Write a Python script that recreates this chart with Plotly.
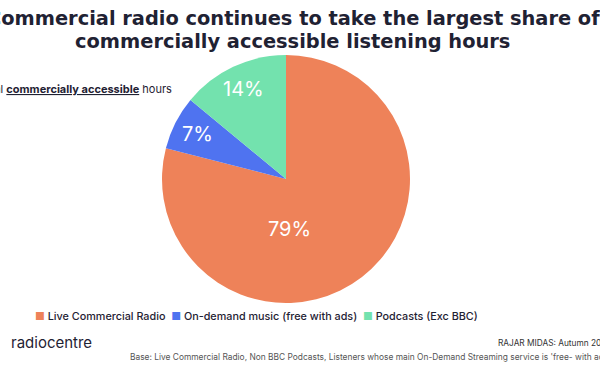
import math
import plotly.graph_objects as go

labels = ["Live Commercial Radio", "On-demand music (free with ads)", "Podcasts (Exc BBC)"]
values = [79, 7, 14]
colors = ["#EE8259", "#4F73F0", "#73E2AE"]

title_line1 = "Commercial radio continues to take the largest share of"
title_line2 = "commercially accessible listening hours"
subtitle = "% of total <b><u>commercially accessible</u></b> hours"
source = "RAJAR MIDAS: Autumn 2023"
base_note = "Base: Live Commercial Radio, Non BBC Podcasts, Listeners whose main On-Demand Streaming service is 'free- with ads'"

W, H = 600, 372
FONT = "Inter, Lato, sans-serif"
TFONT = "DejaVu Sans, sans-serif"
NAVY = "#1f2233"

# pie geometry (pixels)
CX, CY, R = 286, 179, 124

fig = go.Figure(go.Pie(
    labels=labels, values=values,
    marker=dict(colors=colors, line=dict(width=0)),
    sort=False, direction="clockwise", rotation=0,
    textinfo="none",
    domain=dict(x=[(CX - R) / W, (CX + R) / W], y=[1 - (CY + R) / H, 1 - (CY - R) / H]),
    hoverinfo="label+percent",
    showlegend=False,
))

def px(x, y):
    return x / W, 1 - y / H

ann = []
# slice labels, placed along each slice's mid-angle
total = sum(values)
cum = 0
for v in values:
    frac = v / total
    mid = (cum + frac / 2) * 2 * math.pi
    cum += frac
    if frac > 0.5:
        lx, ly = CX + 3, CY + 0.4 * R
    else:
        rr = 0.8 * R
        lx, ly = CX + rr * math.sin(mid), CY - rr * math.cos(mid)
    x, y = px(lx, ly)
    ann.append(dict(text=f"{v}%", x=x, y=y, xref="paper", yref="paper", showarrow=False,
                    font=dict(family=FONT, size=20, color="white"), xanchor="center", yanchor="middle"))

x, y = px(293, 19)
ann.append(dict(text=f"<b>{title_line1}</b>", x=x, y=y, xref="paper", yref="paper", showarrow=False,
                font=dict(family=TFONT, size=19.4, color=NAVY), xanchor="center", yanchor="middle"))
x, y = px(292, 41)
ann.append(dict(text=f"<b>{title_line2}</b>", x=x, y=y, xref="paper", yref="paper", showarrow=False,
                font=dict(family=TFONT, size=19.4, color=NAVY), xanchor="center", yanchor="middle"))
x, y = px(174, 89)
ann.append(dict(text=subtitle, x=x, y=y, xref="paper", yref="paper", showarrow=False,
                font=dict(family=FONT, size=11, color=NAVY), xanchor="right", yanchor="middle"))

# legend row built from labels/colors
legend_txt = "  ".join(f"<span style='color:{c}'>■</span> {l}" for l, c in zip(labels, colors))
x, y = px(256, 316)
ann.append(dict(text=legend_txt, x=x, y=y, xref="paper", yref="paper", showarrow=False,
                font=dict(family=FONT, size=10.8, color=NAVY, weight=500), xanchor="center", yanchor="middle"))

x, y = px(9, 342)
ann.append(dict(text="radiocentre", x=x, y=y, xref="paper", yref="paper", showarrow=False,
                font=dict(family=FONT, size=15, color=NAVY), xanchor="left", yanchor="middle"))
x, y = px(496, 343)
ann.append(dict(text=source, x=x, y=y, xref="paper", yref="paper", showarrow=False,
                font=dict(family=FONT, size=8.3, color="#333333"), xanchor="left", yanchor="middle"))
x, y = px(128, 357)
ann.append(dict(text=base_note, x=x, y=y, xref="paper", yref="paper", showarrow=False,
                font=dict(family=FONT, size=8.4, color="#555555"), xanchor="left", yanchor="middle"))

fig.update_layout(
    width=W, height=H,
    margin=dict(l=0, r=0, t=0, b=0),
    paper_bgcolor="white", plot_bgcolor="white",
    annotations=ann,
)

fig.write_html("out.html", config={"displayModeBar": False},
               post_script="document.body.style.margin='0';document.body.style.overflow='hidden';")
